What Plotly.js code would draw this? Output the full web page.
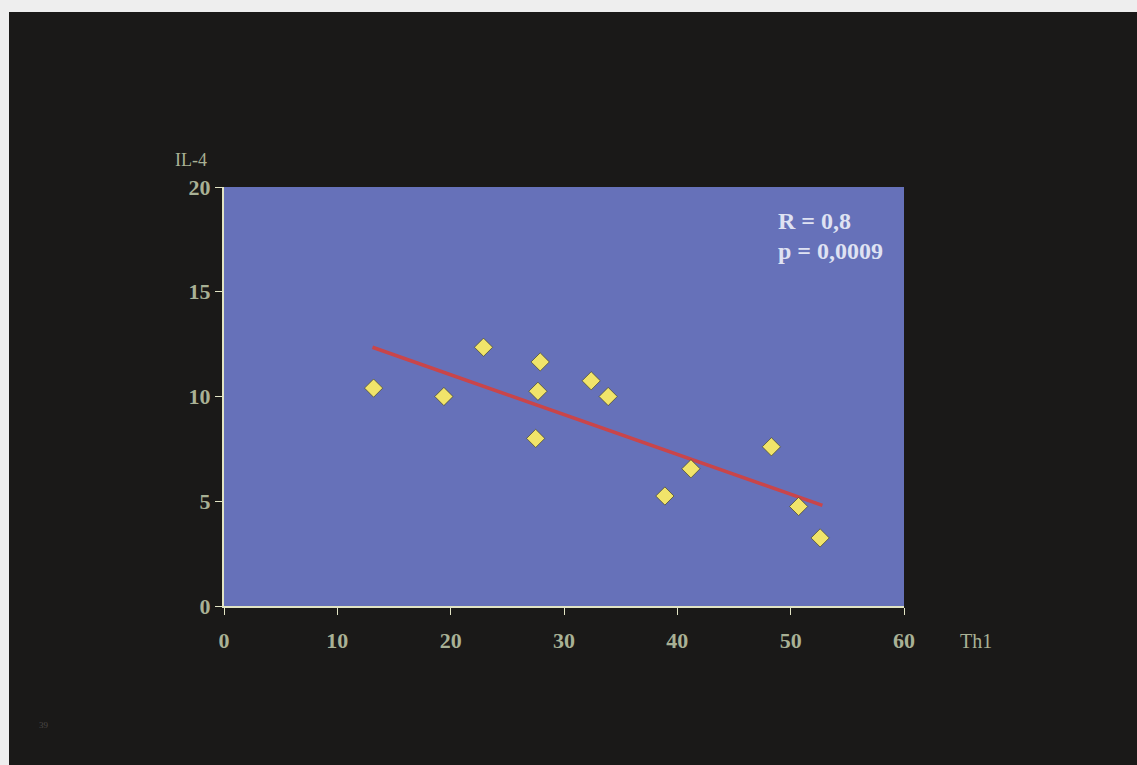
<!DOCTYPE html>
<html>
<head>
<meta charset="utf-8">
<script src="https://cdn.plot.ly/plotly-3.0.1.min.js"></script>
<style>
html,body{margin:0;padding:0;background:#eeeeee;width:1137px;height:765px;overflow:hidden;}
#chart{position:absolute;left:9px;top:12px;width:1128px;height:753px;}
</style>
</head>
<body>
<div id="chart"></div>
<script>
const th1 = [13.2, 19.4, 22.9, 27.5, 27.7, 27.9, 32.4, 33.9, 38.9, 41.2, 48.3, 50.7, 52.6];
const il4 = [10.4, 10.0, 12.35, 8.0, 10.25, 11.65, 10.75, 10.0, 5.25, 6.55, 7.6, 4.75, 3.25];
const fitX = [13.1, 52.8];
const fitY = [12.35, 4.8];
const xTicks = [0, 10, 20, 30, 40, 50, 60];
const yTicks = [0, 5, 10, 15, 20];
const statText = ["R = 0,8", "p = 0,0009"];

const tickColor = '#a9b195';
const serif = 'Liberation Serif, Times New Roman, serif';

const data = [
  {x: fitX, y: fitY, mode: 'lines', type: 'scatter',
   line: {color: '#c9454a', width: 3.5}, hoverinfo: 'skip', showlegend: false},
  {x: th1, y: il4, mode: 'markers', type: 'scatter',
   marker: {symbol: 'diamond', size: 14, color: '#f1e46a',
            line: {color: 'rgba(70,70,40,0.7)', width: 1}},
   showlegend: false}
];

const layout = {
  width: 1128, height: 753,
  margin: {l: 215, r: 233, t: 175, b: 159},
  paper_bgcolor: '#1a1918',
  plot_bgcolor: '#6671b9',
  showlegend: false,
  xaxis: {
    range: [0, 60], tickvals: xTicks, ticktext: xTicks.map(v => '<b>' + v + '</b>'),
    showgrid: false, zeroline: false,
    showline: true, linecolor: '#e2e4c4', linewidth: 2,
    ticks: 'outside', ticklen: 7, tickcolor: '#e2e4c4', tickwidth: 1,
    tickfont: {family: serif, size: 22, color: tickColor},
    ticklabelstandoff: 7
  },
  yaxis: {
    range: [0, 20], tickvals: yTicks, ticktext: yTicks.map(v => '<b>' + v + '</b>'),
    showgrid: false, zeroline: false,
    showline: true, linecolor: '#e2e4c4', linewidth: 2,
    ticks: 'outside', ticklen: 7, tickcolor: '#e2e4c4', tickwidth: 1,
    tickfont: {family: serif, size: 22, color: tickColor}
  },
  annotations: [
    {xref: 'paper', yref: 'paper', x: -0.075, y: 1.064, xanchor: 'left', yanchor: 'middle',
     text: 'IL-4', showarrow: false, font: {family: serif, size: 18, color: tickColor}},
    {xref: 'paper', yref: 'paper', x: 1.08, y: -0.083, xanchor: 'left', yanchor: 'middle',
     text: 'Th1', showarrow: false, font: {family: serif, size: 20, color: tickColor}},
    {xref: 'paper', yref: 'paper', x: 0.812, y: 0.919, xanchor: 'left', yanchor: 'middle',
     text: '<b>' + statText[0] + '</b>', showarrow: false,
     font: {family: serif, size: 24, color: '#dfe2f2'}},
    {xref: 'paper', yref: 'paper', x: 0.812, y: 0.847, xanchor: 'left', yanchor: 'middle',
     text: '<b>' + statText[1] + '</b>', showarrow: false,
     font: {family: serif, size: 24, color: '#dfe2f2'}},
    {xref: 'paper', yref: 'paper', x: -0.275, y: -0.285, xanchor: 'left', yanchor: 'middle',
     text: '39', showarrow: false, font: {family: serif, size: 9, color: '#4a4846'}}
  ]
};

Plotly.newPlot('chart', data, layout, {displayModeBar: false, staticPlot: true});
</script>
</body>
</html>
